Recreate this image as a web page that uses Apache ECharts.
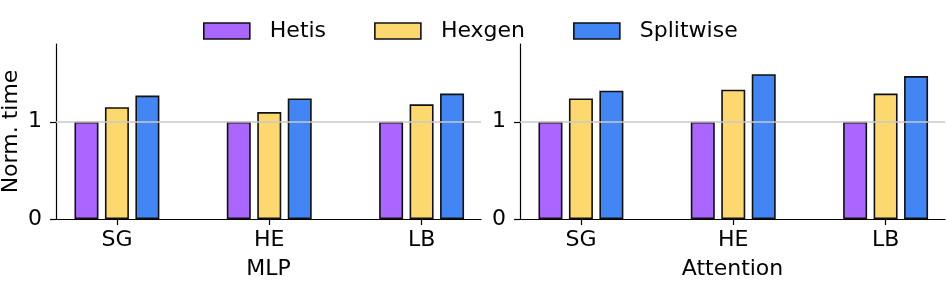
<!DOCTYPE html>
<html>
<head>
<meta charset="utf-8">
<script src="https://cdn.jsdelivr.net/npm/echarts@6/dist/echarts.min.js"></script>
<style>
html,body{margin:0;padding:0;background:#fff;}
#chart{width:947px;height:283px;}
</style>
</head>
<body>
<div id="chart"></div>
<script>
// ---- data ----
const categories = ['SG', 'HE', 'LB'];
const seriesNames = ['Hetis', 'Hexgen', 'Splitwise'];
const panelTitles = ['MLP', 'Attention'];
const mlpHetis = [1.0, 1.0, 1.0];
const mlpHexgen = [1.15, 1.10, 1.18];
const mlpSplitwise = [1.27, 1.24, 1.29];
const attnHetis = [1.0, 1.0, 1.0];
const attnHexgen = [1.24, 1.33, 1.29];
const attnSplitwise = [1.32, 1.49, 1.47];
const yTicks = [0, 1];
const refLine = 1;

// ---- style ----
const colors = ['#aa66fe', '#fdd86e', '#4186f4'];
const FONT = 'DejaVu Sans';
const FS = 22;
const offsets = [-0.2, 0, 0.2];

const chart = echarts.init(document.getElementById('chart'), null, {renderer: 'canvas'});

const grids = [
  {left: 56, top: 44, width: 425, bottom: 64, containLabel: false, outerBoundsMode: 'none'},
  {left: 520, top: 44, width: 425, bottom: 64, containLabel: false, outerBoundsMode: 'none'}
];

function xAxis(idx) {
  return {
    type: 'value', gridIndex: idx, min: -0.4, max: 2.39,
    name: panelTitles[idx], nameLocation: 'middle', nameGap: 39,
    nameTextStyle: {fontFamily: FONT, fontSize: FS, color: '#000'},
    axisLine: {show: true, onZero: false, lineStyle: {color: '#000', width: 1.2}},
    axisTick: {show: true, length: 6, customValues: [0, 1, 2], lineStyle: {color: '#000', width: 1.2}},
    axisLabel: {show: true, margin: 10, customValues: [0, 1, 2],
      formatter: v => categories[Math.round(v)] || '',
      fontFamily: FONT, fontSize: FS, color: '#000'},
    splitLine: {show: false}
  };
}
function yAxis(idx) {
  return {
    type: 'value', gridIndex: idx, min: 0, max: 1.8,
    name: idx === 0 ? 'Norm. time' : '', nameLocation: 'middle', nameGap: 34,
    nameTextStyle: {fontFamily: FONT, fontSize: FS, color: '#000'},
    axisLine: {show: true, onZero: false, lineStyle: {color: '#000', width: 1.2}},
    axisTick: {show: true, length: 6, customValues: yTicks, lineStyle: {color: '#000', width: 1.2}},
    axisLabel: {show: true, margin: 14, customValues: yTicks,
      fontFamily: FONT, fontSize: FS, color: '#000'},
    splitLine: {show: false}
  };
}

const panels = [
  [mlpHetis, mlpHexgen, mlpSplitwise],
  [attnHetis, attnHexgen, attnSplitwise]
];

const series = [];
panels.forEach((vals, g) => {
  vals.forEach((arr, s) => {
    const ser = {
      name: seriesNames[s], type: 'bar', xAxisIndex: g, yAxisIndex: g,
      barWidth: 24, barGap: '-100%',
      itemStyle: {color: colors[s], borderColor: '#111', borderWidth: 1.6},
      data: categories.map((c, i) => [i + offsets[s], arr[i]]),
      z: 2
    };
    if (s === 0) {
      ser.markLine = {
        silent: true, symbol: ['none', 'none'], animation: false,
        label: {show: false}, z: 10,
        lineStyle: {color: '#c8c8c8', width: 1.6, type: 'solid'},
        data: [{yAxis: refLine}]
      };
    }
    series.push(ser);
  });
});

chart.setOption({
  animation: false,
  backgroundColor: '#fff',
  textStyle: {fontFamily: FONT},
  legend: {
    left: 203, top: 20, padding: 0, itemWidth: 46, itemHeight: 16, itemGap: 48,
    icon: 'rect',
    data: seriesNames,
    itemStyle: {borderColor: '#111', borderWidth: 1.6},
    textStyle: {fontFamily: FONT, fontSize: FS, color: '#000', padding: [0, 0, 0, 15]}
  },
  grid: grids,
  xAxis: [xAxis(0), xAxis(1)],
  yAxis: [yAxis(0), yAxis(1)],
  series: series
});
</script>
</body>
</html>
